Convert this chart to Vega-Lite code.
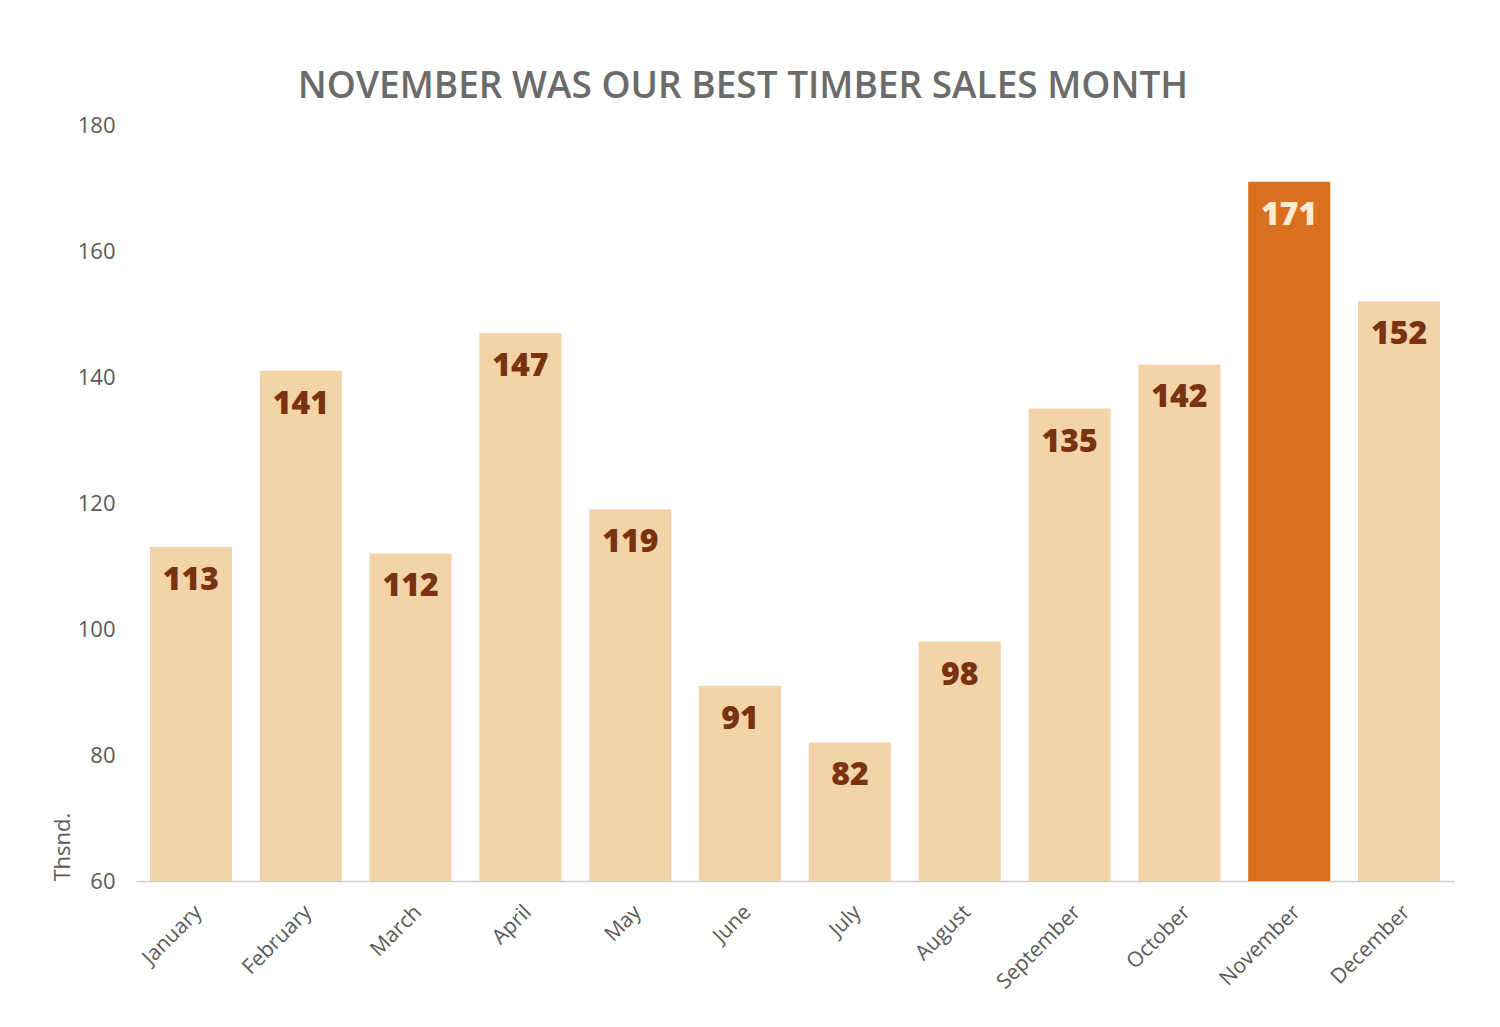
{
  "$schema": "https://vega.github.io/schema/vega-lite/v6.json",
  "width": 1318,
  "height": 756,
  "autosize": {"type": "none"},
  "padding": {"left": 136, "top": 125, "right": 46, "bottom": 146},
  "background": "white",
  "title": {
    "text": "NOVEMBER WAS OUR BEST TIMBER SALES MONTH",
    "font": "Open Sans",
    "fontSize": 37,
    "fontWeight": 600,
    "color": "#6b6b6b",
    "anchor": "middle",
    "frame": "group",
    "dx": -52,
    "offset": 8
  },
  "data": {
    "values": [
      {"month": "January", "sales": 113},
      {"month": "February", "sales": 141},
      {"month": "March", "sales": 112},
      {"month": "April", "sales": 147},
      {"month": "May", "sales": 119},
      {"month": "June", "sales": 91},
      {"month": "July", "sales": 82},
      {"month": "August", "sales": 98},
      {"month": "September", "sales": 135},
      {"month": "October", "sales": 142},
      {"month": "November", "sales": 171},
      {"month": "December", "sales": 152}
    ]
  },
  "config": {
    "view": {"stroke": null},
    "font": "Open Sans"
  },
  "encoding": {
    "x": {
      "field": "month",
      "type": "nominal",
      "sort": null,
      "scale": {"paddingInner": 0.253, "paddingOuter": 0.127},
      "axis": {
        "title": null,
        "labelAngle": -45,
        "labelFontSize": 21,
        "labelColor": "#5a5a5a",
        "labelFont": "Open Sans",
        "labelPadding": 20,
        "ticks": false,
        "domainColor": "#cfcfcf",
        "domainWidth": 1.5
      }
    },
    "y": {
      "field": "sales",
      "type": "quantitative",
      "scale": {"domain": [60, 180], "nice": false, "clamp": true},
      "axis": {
        "title": "Thsnd.",
        "titleFont": "Open Sans",
        "titleFontSize": 22,
        "titleFontWeight": "normal",
        "titleColor": "#5a5a5a",
        "titleAnchor": "start",
        "titlePadding": 3,
        "values": [60, 80, 100, 120, 140, 160, 180],
        "labelFontSize": 22,
        "labelColor": "#5a5a5a",
        "labelFont": "Open Sans",
        "labelPadding": 21,
        "ticks": false,
        "domain": false,
        "grid": false
      }
    }
  },
  "layer": [
    {
      "mark": {"type": "bar"},
      "encoding": {
        "y2": {"datum": 60},
        "color": {
          "condition": {"test": "datum.month === 'November'", "value": "#d9701d"},
          "value": "#f3d3a8"
        }
      }
    },
    {
      "mark": {
        "type": "text",
        "baseline": "middle",
        "dy": 33,
        "fontSize": 32,
        "fontWeight": 800,
        "font": "Open Sans"
      },
      "encoding": {
        "text": {"field": "sales", "type": "quantitative"},
        "color": {
          "condition": {"test": "datum.month === 'November'", "value": "#fbead4"},
          "value": "#7a3311"
        }
      }
    }
  ]
}
